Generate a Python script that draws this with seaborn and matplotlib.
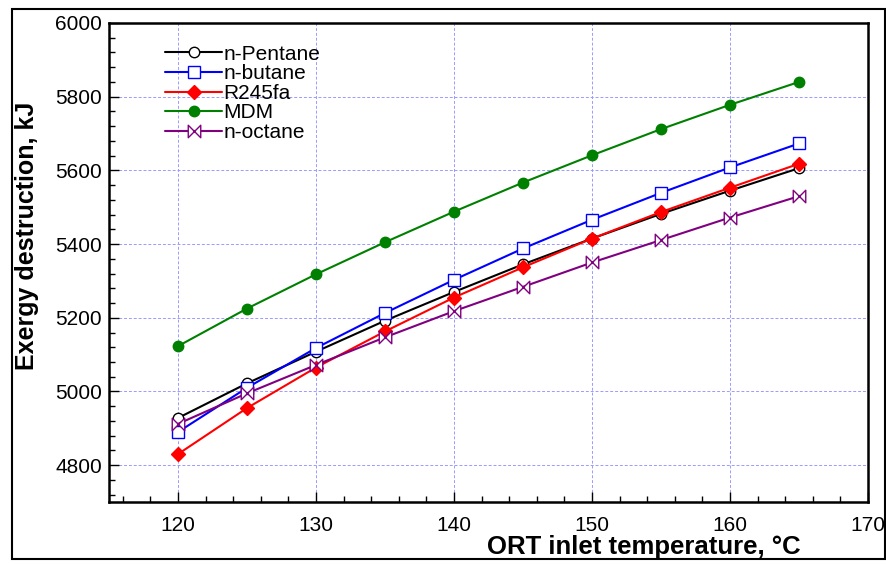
import numpy as np
import pandas as pd
import matplotlib
matplotlib.use('Agg')
import matplotlib.pyplot as plt
from matplotlib.path import Path
from matplotlib.patches import Rectangle
from matplotlib.ticker import MultipleLocator
import seaborn as sns

sns.set_style('white')
plt.rcParams['font.family'] = ['Liberation Sans', 'DejaVu Sans']
plt.rcParams['text.color'] = 'black'
plt.rcParams['axes.labelcolor'] = 'black'
plt.rcParams['xtick.color'] = 'black'
plt.rcParams['ytick.color'] = 'black'

# ORT inlet temperature, degC
temps = [120, 125, 130, 135, 140, 145, 150, 155, 160, 165]

# exergy destruction, kJ
n_pentane = [4928, 5022, 5108, 5192, 5270, 5345, 5415, 5482, 5545, 5606]
n_butane = [4890, 5010, 5118, 5213, 5303, 5388, 5466, 5539, 5608, 5673]
r245fa = [4830, 4955, 5065, 5163, 5255, 5337, 5415, 5487, 5553, 5618]
mdm = [5123, 5225, 5318, 5405, 5488, 5567, 5641, 5712, 5778, 5840]
n_octane = [4912, 4995, 5072, 5147, 5218, 5284, 5350, 5411, 5472, 5530]

names = ['n-Pentane', 'n-butane', 'R245fa', 'MDM', 'n-octane']
values = [n_pentane, n_butane, r245fa, mdm, n_octane]

df = pd.DataFrame({'T': temps * len(names),
                   'Ex': sum(values, []),
                   'fluid': np.repeat(names, len(temps))})

# hollow bow-tie marker for n-octane
bowtie = Path([(-1, -1), (1, 1), (1, -1), (-1, 1), (-1, -1)],
              [Path.MOVETO, Path.LINETO, Path.LINETO, Path.LINETO, Path.CLOSEPOLY])

styles = {
    'n-Pentane': dict(color='black', marker='o', mfc='white', mec='black', ms=7.5),
    'n-butane': dict(color='#0000ff', marker='s', mfc='white', mec='#0000ff', ms=8.5),
    'R245fa': dict(color='#ff0000', marker='D', mfc='#ff0000', mec='#ff0000', ms=7.5),
    'MDM': dict(color='#008000', marker='o', mfc='#008000', mec='#008000', ms=7.5),
    'n-octane': dict(color='#800080', marker=bowtie, mfc='white', mec='#800080', ms=9),
}

fig = plt.figure(figsize=(8.87, 5.65), dpi=100)
ax = fig.add_axes([0.1229, 0.1115, 0.8557, 0.8478])

for name in names:
    st = styles[name]
    sub = df[df.fluid == name]
    sns.lineplot(data=sub, x='T', y='Ex', ax=ax, color=st['color'], linewidth=1.5,
                 marker=st['marker'], markerfacecolor=st['mfc'],
                 markeredgecolor=st['mec'], markersize=st['ms'],
                 markeredgewidth=1.0, label=name)

ax.set_xlim(115, 170)
ax.set_ylim(4700, 6000)
ax.xaxis.set_major_locator(MultipleLocator(10))
ax.xaxis.set_minor_locator(MultipleLocator(2))
ax.yaxis.set_major_locator(MultipleLocator(200))
ax.yaxis.set_minor_locator(MultipleLocator(40))
ax.grid(True, which='major', color='#9a9aff', linestyle=(0, (3, 2)), linewidth=0.7)
ax.tick_params(which='both', direction='in', bottom=True, left=True,
               top=False, right=False, labelsize=15, color='black')
ax.tick_params(which='major', length=7, width=1)
ax.tick_params(which='minor', length=4, width=1)
ax.tick_params(axis='x', pad=10)
ax.tick_params(axis='y', pad=5)
for sp in ax.spines.values():
    sp.set_linewidth(1.8)
    sp.set_color('black')

ax.set_xlabel('ORT inlet temperature, °C', fontsize=18.5, fontweight='bold')
ax.xaxis.set_label_coords(0.705, -0.068)
ax.set_ylabel('Exergy destruction, kJ', fontsize=18, fontweight='bold')
ax.yaxis.set_label_coords(-0.092, 0.556)

leg = ax.legend(loc='upper left', bbox_to_anchor=(0.074, 0.955), frameon=False,
                fontsize=15, handlelength=2.75, handletextpad=0.05, labelspacing=0.03,
                borderaxespad=0, borderpad=0)

fig.patches.append(Rectangle((0.0135, 0.011), 0.984, 0.973, transform=fig.transFigure,
                             fill=False, edgecolor='black', linewidth=1.5))

fig.savefig('out.png', dpi=100)
